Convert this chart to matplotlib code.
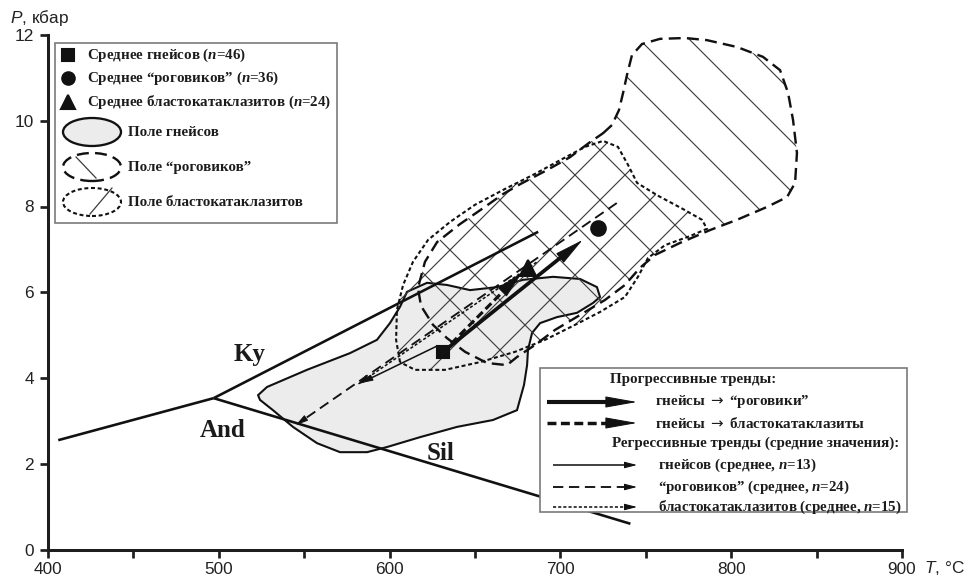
import numpy as np
import matplotlib
matplotlib.use("Agg")
import matplotlib.pyplot as plt
from matplotlib.patches import Polygon, Ellipse, Rectangle, FancyArrowPatch
from matplotlib.lines import Line2D

# ---------------- data (T, °C ; P, kbar) ----------------
ky_and_T = [406, 497]
ky_and_P = [2.55, 3.53]
ky_sil_T = [497, 687]
ky_sil_P = [3.53, 7.41]
and_sil_T = [497, 741]
and_sil_P = [3.53, 0.60]

phase_labels = ["Ky", "And", "Sil"]
phase_label_T = [518, 502, 630]
phase_label_P = [4.54, 2.77, 2.25]

gneiss_T = [523.0, 528.2, 551.6, 576.8, 592.6, 600.2, 606.1, 610.2, 621.9, 633.6, 647.1, 662.9,
            678.1, 695.7, 711.5, 721.4, 723.2, 719.1, 709.7, 698.0, 688.1, 683.4, 681.0, 680.5,
            678.7, 674.6, 660.5, 639.5, 617.8, 598.5, 586.8, 571.0, 557.5, 543.4, 531.7, 524.1]
gneiss_P = [3.60, 3.79, 4.19, 4.58, 4.89, 5.28, 5.66, 6.01, 6.22, 6.17, 6.05, 6.12,
            6.29, 6.36, 6.31, 6.12, 5.89, 5.75, 5.52, 5.42, 5.28, 5.05, 4.65, 4.30,
            3.84, 3.25, 3.02, 2.86, 2.62, 2.39, 2.27, 2.27, 2.48, 2.86, 3.25, 3.49]

hornfels_T = [725.0, 730.2, 734.3, 736.7, 739.0, 741.9, 747.8, 758.3, 773.0, 785.8, 803.4, 818.6,
              828.6, 833.3, 836.2, 838.5, 837.4, 832.7, 821.0, 803.4, 787.6, 770.0, 755.4, 746.6,
              737.8, 726.1, 711.5, 696.8, 685.1, 674.6, 668.7, 657.0, 644.2, 633.6, 625.4, 618.4,
              616.6, 620.7, 627.8, 641.2, 654.7, 666.4, 676.4, 692.2, 705.6, 717.3]
hornfels_P = [9.71, 9.90, 10.25, 10.65, 11.07, 11.53, 11.79, 11.91, 11.93, 11.88, 11.72, 11.49,
              11.18, 10.65, 10.02, 9.25, 8.55, 8.22, 7.99, 7.69, 7.45, 7.15, 6.87, 6.57,
              6.17, 5.82, 5.47, 5.12, 4.77, 4.49, 4.30, 4.35, 4.61, 4.93, 5.24, 5.68,
              6.10, 6.71, 7.17, 7.59, 7.96, 8.29, 8.52, 8.85, 9.15, 9.50]

blasto_T = [606.1, 603.8, 604.3, 607.9, 613.7, 622.5, 635.4, 650.0, 667.6, 685.1, 699.8, 714.4,
            725.0, 733.7, 739.6, 744.9, 757.2, 771.8, 782.9, 785.8, 775.9, 761.3, 751.3, 745.4,
            737.8, 723.2, 708.6, 691.0, 673.4, 652.9, 632.4, 614.9]
blasto_P = [4.37, 4.89, 5.59, 6.17, 6.71, 7.22, 7.64, 8.04, 8.41, 8.76, 9.08, 9.39,
            9.53, 9.39, 8.97, 8.55, 8.25, 7.94, 7.69, 7.48, 7.31, 7.10, 6.80, 6.36,
            5.89, 5.54, 5.24, 4.89, 4.61, 4.37, 4.19, 4.19]

mean_names = ["гнейсов", "“роговиков”", "бластокатаклазитов"]
mean_T = [631, 722, 681]
mean_P = [4.60, 7.49, 6.56]
mean_n = [46, 36, 24]
mean_markers = ["s", "o", "^"]

field_names = ["Поле гнейсов", "Поле “роговиков”", "Поле бластокатаклазитов"]

# progressive trends: gneiss -> hornfels, gneiss -> blastocataclasite
prog_start_T = [631, 631]
prog_start_P = [4.60, 4.60]
prog_end_T = [713, 678]
prog_end_P = [7.22, 6.48]
prog_from = ["гнейсы", "гнейсы"]
prog_to = ["“роговики”", "бластокатаклазиты"]

# regressive trends (means): gneiss, hornfels, blastocataclasite
reg_start_T = [628, 733, 686]
reg_start_P = [4.75, 8.08, 6.70]
reg_end_T = [583, 545, 581]
reg_end_P = [3.88, 2.90, 3.84]
reg_n = [13, 24, 15]
reg_names = ["гнейсов", "“роговиков”", "бластокатаклазитов"]

x_ticks = [400, 450, 500, 550, 600, 650, 700, 750, 800, 850, 900]
x_labels = ["400", "", "500", "", "600", "", "700", "", "800", "", "900"]
y_ticks = [0, 2, 4, 6, 8, 10, 12]
y_labels = ["0", "2", "4", "6", "8", "10", "12"]

# ---------------- style ----------------
plt.rcParams["font.family"] = ["Liberation Sans", "DejaVu Sans"]
plt.rcParams["mathtext.fontset"] = "custom"
plt.rcParams["mathtext.rm"] = "Liberation Sans"
plt.rcParams["mathtext.it"] = "Liberation Sans:italic"
plt.rcParams["mathtext.sf"] = "DejaVu Sans"
plt.rcParams["mathtext.bfit"] = "Liberation Serif:bold:italic"
plt.rcParams["hatch.linewidth"] = 0.55

DPI = 150
W, H = 972, 581
INK = "#111111"
HATCH = "#3c3c3c"
SERIF = ["Liberation Serif", "DejaVu Serif"]

fig = plt.figure(figsize=(W / DPI, H / DPI), dpi=DPI)
ax = fig.add_axes([48 / W, 31.5 / H, 854 / W, 514.5 / H])
ax.set_xlim(400, 900)
ax.set_ylim(0, 12)
for s in ("top", "right"):
    ax.spines[s].set_visible(False)
for s in ("left", "bottom"):
    ax.spines[s].set_linewidth(1.45)
    ax.spines[s].set_color("#1e1e1e")
ax.set_xticks(x_ticks)
ax.set_xticklabels(x_labels)
ax.set_yticks(y_ticks)
ax.set_yticklabels(y_labels)
ax.tick_params(direction="out", length=3.8, width=1.3, labelsize=8.3, colors="#1e1e1e",
               labelcolor="#222222")
ax.tick_params(axis="x", pad=2.3)
ax.tick_params(axis="y", pad=3.0)


def fx(px):
    return px / W


def fy(py):
    return 1 - py / H


# ---------------- fields ----------------
ax.add_patch(Polygon(np.column_stack([gneiss_T, gneiss_P]), closed=True, facecolor="#ececec",
                     edgecolor=INK, lw=1.0, zorder=1))
ax.add_patch(Polygon(np.column_stack([hornfels_T, hornfels_P]), closed=True, fill=False,
                     hatch="\\", edgecolor=HATCH, lw=0, zorder=2))
ax.add_patch(Polygon(np.column_stack([blasto_T, blasto_P]), closed=True, fill=False,
                     hatch="/", edgecolor=HATCH, lw=0, zorder=2))
ax.add_patch(Polygon(np.column_stack([hornfels_T, hornfels_P]), closed=True, fill=False,
                     edgecolor=INK, lw=1.15, linestyle=(0, (5, 2.6)), zorder=3))
ax.add_patch(Polygon(np.column_stack([blasto_T, blasto_P]), closed=True, fill=False,
                     edgecolor=INK, lw=1.0, linestyle=(0, (1.9, 1.3)), zorder=3))

# ---------------- phase boundaries ----------------
for T, P in ((ky_and_T, ky_and_P), (ky_sil_T, ky_sil_P), (and_sil_T, and_sil_P)):
    ax.plot(T, P, color=INK, lw=1.25, zorder=3, solid_capstyle="butt")
for lab, T, P in zip(phase_labels, phase_label_T, phase_label_P):
    ax.text(T, P, lab, family=SERIF, weight="bold", fontsize=12, ha="center", va="center",
            color="#1a1a1a", zorder=4)


# ---------------- arrows ----------------
def add_arrow(target, p0, p1, lw, ls, hl, hw, transform, z):
    """Shaft drawn with its own line style, solid filled head (hl, hw in points)."""
    d0 = np.asarray(transform.transform(p0), float)
    d1 = np.asarray(transform.transform(p1), float)
    u = (d1 - d0) / np.hypot(*(d1 - d0))
    hl_px = hl * DPI / 72.0
    pm = transform.inverted().transform(d1 - u * hl_px * 0.8)
    shaft = Line2D([p0[0], pm[0]], [p0[1], pm[1]], lw=lw, linestyle=ls, color=INK,
                   transform=transform, solid_capstyle="butt", dash_capstyle="butt", zorder=z)
    head = FancyArrowPatch(tuple(pm), tuple(p1),
                           arrowstyle=f"-|>,head_length={hl / 10:.3f},head_width={hw / 10:.3f}",
                           mutation_scale=10, lw=0.5, color=INK, shrinkA=0, shrinkB=0,
                           zorder=z, transform=transform)
    if target is fig:
        fig.add_artist(shaft)
        fig.add_artist(head)
    else:
        target.add_line(shaft)
        target.add_patch(head)


prog_styles = [dict(lw=1.8, ls="-"), dict(lw=1.5, ls=(0, (2.6, 1.3)))]
reg_styles = [dict(lw=0.75, ls="-"), dict(lw=0.9, ls=(0, (5.5, 3.0))), dict(lw=0.75, ls=(0, (2.0, 1.3)))]

for i in range(3):
    st = reg_styles[i]
    add_arrow(ax, (reg_start_T[i], reg_start_P[i]), (reg_end_T[i], reg_end_P[i]),
              st["lw"], st["ls"], 5.0, 1.3, ax.transData, 4)
for i in range(2):
    st = prog_styles[i]
    add_arrow(ax, (prog_start_T[i], prog_start_P[i]), (prog_end_T[i], prog_end_P[i]),
              st["lw"], st["ls"], 12.5, 2.6, ax.transData, 5)

mean_sizes = [6.2, 7.0, 7.4]
for T, P, m, s in zip(mean_T, mean_P, mean_markers, mean_sizes):
    ax.plot([T], [P], marker=m, markersize=s, color=INK, linestyle="none", zorder=6)

# ---------------- axis labels ----------------
fig.text(fx(10), fy(18), "$P$, кбар", ha="left", va="center", fontsize=8.3, color="#222222")
fig.text(fx(924), fy(568), "$T$, °C", ha="left", va="center", fontsize=8.3, color="#222222")

# ---------------- legend 1 (top-left) ----------------
TXT = dict(family=SERIF, weight="bold", fontsize=7.2, color="#1c1c1c", va="center", ha="left", zorder=8)
fig.add_artist(Rectangle((fx(55), fy(223)), (337 - 55) / W, (223 - 43) / H, transform=fig.transFigure,
                         facecolor="white", edgecolor="#7a7a7a", lw=0.8, zorder=7))
rows1 = [55, 78, 102]
for y, m, s, name, n in zip(rows1, mean_markers, [5.4, 6.0, 6.6], mean_names, mean_n):
    fig.add_artist(Line2D([fx(68)], [fy(y)], marker=m, markersize=s, color=INK, linestyle="none",
                          transform=fig.transFigure, zorder=8))
    fig.text(fx(87), fy(y), f"Среднее {name} ($\\mathbfit{{n}}$={n})", **TXT)

rows2 = [132, 167, 202]
ell_styles = [dict(fc="#ececec", ls="-", lw=1.1), dict(fc="white", ls=(0, (5, 2.6)), lw=1.15),
              dict(fc="white", ls=(0, (1.9, 1.3)), lw=1.0)]
for y, name, st in zip(rows2, field_names, ell_styles):
    fig.add_artist(Ellipse((fx(92), fy(y)), 58 / W, 28 / H, transform=fig.transFigure,
                           facecolor=st["fc"], edgecolor=INK, lw=st["lw"], linestyle=st["ls"], zorder=8))
    fig.text(fx(128), fy(y), name, **TXT)
fig.add_artist(Line2D([fx(76), fx(96)], [fy(157), fy(178)], color=HATCH, lw=0.6,
                      transform=fig.transFigure, zorder=9))
fig.add_artist(Line2D([fx(90), fx(112)], [fy(214), fy(188)], color=HATCH, lw=0.6,
                      transform=fig.transFigure, zorder=9))

# ---------------- legend 2 (bottom-right) ----------------
fig.add_artist(Rectangle((fx(540), fy(512)), (907 - 540) / W, (512 - 368) / H, transform=fig.transFigure,
                         facecolor="white", edgecolor="#7a7a7a", lw=0.8, zorder=7))
fig.text(fx(610), fy(380), "Прогрессивные тренды:", **TXT)
for y, a, b, st in zip([402, 423], prog_from, prog_to, prog_styles):
    add_arrow(fig, (fx(547), fy(y)), (fx(637), fy(y)), st["lw"] * 1.1, st["ls"],
              13.5, 2.4, fig.transFigure, 8)
    fig.text(fx(655), fy(y), f"{a} $\\mathsf{{\\rightarrow}}$ {b}", **TXT)
fig.text(fx(612), fy(443), "Регрессивные тренды (средние значения):", **TXT)
for y, name, n, st in zip([465, 487, 507], reg_names, reg_n, reg_styles):
    add_arrow(fig, (fx(553), fy(y)), (fx(637), fy(y)), st["lw"], st["ls"],
              5.0, 1.3, fig.transFigure, 8)
    fig.text(fx(658), fy(y), f"{name} (среднее, $\\mathbfit{{n}}$={n})", **TXT)

fig.savefig("out.png", dpi=DPI)
